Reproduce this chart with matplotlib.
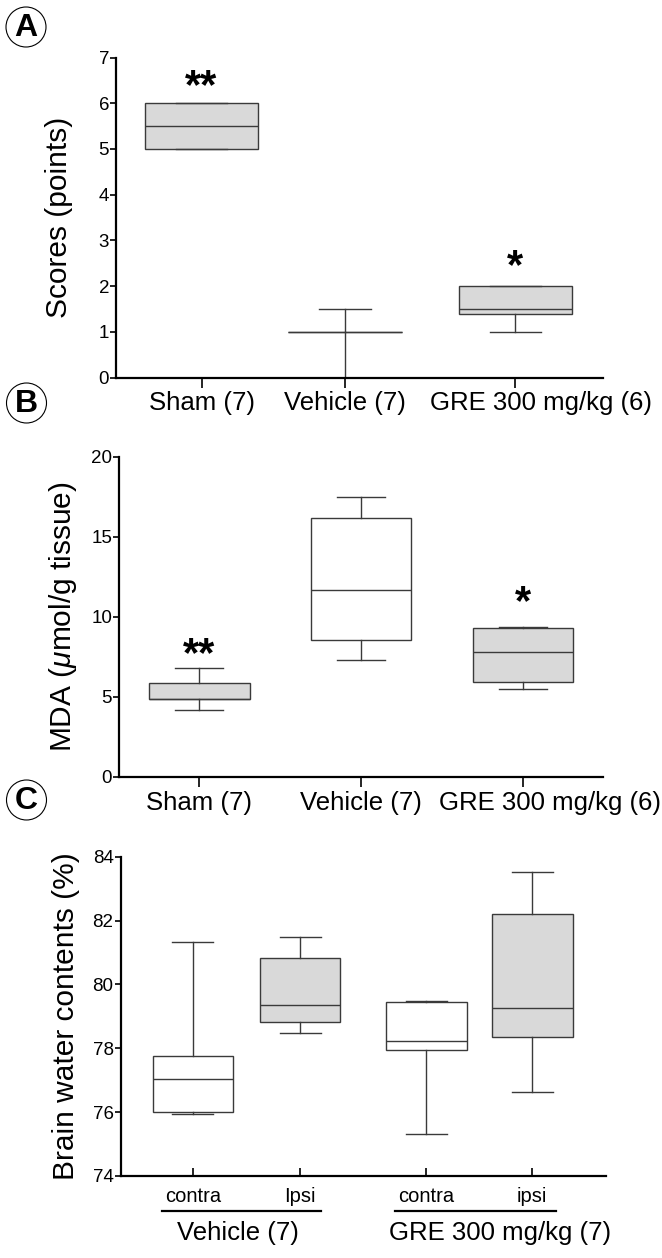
import matplotlib
matplotlib.use('Agg')
import matplotlib.pyplot as plt
import matplotlib.transforms as mtransforms
from matplotlib.patches import Ellipse
from matplotlib.lines import Line2D

plt.rcParams['font.family'] = ['Liberation Sans', 'DejaVu Sans']
plt.rcParams['mathtext.fontset'] = 'custom'
plt.rcParams['mathtext.it'] = 'Liberation Sans:italic'
plt.rcParams['mathtext.rm'] = 'Liberation Sans'

# ---------------- Data ----------------
# Panel A: neurological scores
a_labels = ['Sham (7)', 'Vehicle (7)', 'GRE 300 mg/kg (6)']
a_whislo = [5.0, 0.0, 1.0]
a_q1 = [5.0, 1.0, 1.38]
a_med = [5.5, 1.0, 1.5]
a_q3 = [6.0, 1.0, 2.0]
a_whishi = [6.0, 1.5, 2.0]
a_stars = ['**', '', '*']
a_star_y = [6.57, 0, 2.63]

# Panel B: MDA
b_labels = ['Sham (7)', 'Vehicle (7)', 'GRE 300 mg/kg (6)']
b_whislo = [4.17, 7.29, 5.5]
b_q1 = [4.85, 8.54, 5.94]
b_med = [4.87, 11.7, 7.79]
b_q3 = [5.875, 16.15, 9.29]
b_whishi = [6.77, 17.5, 9.35]
b_stars = ['**', '', '*']
b_star_y = [8.23, 0, 11.46]

# Panel C: brain water contents
c_labels = ['contra', 'Ipsi', 'contra', 'ipsi']
c_groups = ['Vehicle (7)', 'GRE 300 mg/kg (7)']
c_whislo = [75.95, 78.47, 75.33, 76.63]
c_q1 = [76.01, 78.82, 77.96, 78.34]
c_med = [77.04, 79.37, 78.22, 79.26]
c_q3 = [77.77, 80.83, 79.46, 82.22]
c_whishi = [81.33, 81.49, 79.48, 83.53]

# ---------------- Style / layout ----------------
GRAY = '#d9d9d9'
EDGE = '#3a3a3a'
W, H = 662, 1258

fig = plt.figure(figsize=(W / 100, H / 100), dpi=100)

def px_axes(left, right, top, bottom):
    return fig.add_axes([left / W, 1 - bottom / H, (right - left) / W, (bottom - top) / H])

axA = px_axes(116, 603, 57.5, 377.5)
axB = px_axes(119, 603, 456.7, 776.7)
axC = px_axes(120.5, 606, 856.7, 1176)


def style_axes(ax):
    for s in ['top', 'right']:
        ax.spines[s].set_visible(False)
    for s in ['left', 'bottom']:
        ax.spines[s].set_linewidth(1.6)
        ax.spines[s].set_color('black')
    ax.set_xlim(0, 1)
    ax.tick_params(axis='y', length=4, width=1.2, pad=1, labelsize=13.5)


def draw_boxes(ax, labels, whislo, q1, med, q3, whishi, positions, width, capw, fills):
    stats = [dict(label=l, whislo=a, q1=b, med=c, q3=d, whishi=e)
             for l, a, b, c, d, e in zip(labels, whislo, q1, med, q3, whishi)]
    lp = dict(color=EDGE, linewidth=1.0)
    bp = ax.bxp(stats, positions=positions, widths=width, capwidths=capw,
                patch_artist=True, showfliers=False, manage_ticks=False,
                boxprops=dict(edgecolor=EDGE, linewidth=1.0),
                medianprops=lp, whiskerprops=lp, capprops=lp)
    for patch, fc in zip(bp['boxes'], fills):
        patch.set_facecolor(fc)
    ax.set_xticks(positions)
    ax.set_xticklabels(labels)


def stars(ax, positions, texts, ys):
    for p, t, y in zip(positions, texts, ys):
        if t:
            ax.annotate(t, xy=(p, y), xytext=(0, -15), textcoords='offset points',
                        ha='center', va='baseline', fontsize=30, fontweight='bold')


def shift_label(ax, idx, dx_px):
    lbl = ax.get_xticklabels()[idx]
    lbl.set_transform(lbl.get_transform() +
                      mtransforms.ScaledTranslation(dx_px / 100, 0, fig.dpi_scale_trans))

# Panel A
posA = [0.1756, 0.470, 0.820]
style_axes(axA)
draw_boxes(axA, a_labels, a_whislo, a_q1, a_med, a_q3, a_whishi, posA, 0.233, 0.106,
           [GRAY, 'white', GRAY])
axA.set_ylim(0, 7)
axA.set_yticks(range(0, 8))
axA.tick_params(axis='x', length=7, width=1.2, pad=3, labelsize=18.5)
axA.set_ylabel('Scores (points)', fontsize=21.5, va='center')
axA.yaxis.set_label_coords(-0.118, 0.5)
stars(axA, posA, a_stars, a_star_y)
shift_label(axA, 2, 26)

# Panel B
posB = [0.166, 0.500, 0.835]
style_axes(axB)
draw_boxes(axB, b_labels, b_whislo, b_q1, b_med, b_q3, b_whishi, posB, 0.208, 0.099,
           [GRAY, 'white', GRAY])
axB.set_ylim(0, 20)
axB.set_yticks([0, 5, 10, 15, 20])
axB.tick_params(axis='x', length=7, width=1.2, pad=3, labelsize=18.5)
axB.set_ylabel(r'MDA ($\mu$mol/g tissue)', fontsize=21.5, va='center')
axB.yaxis.set_label_coords(-0.116, 0.5)
stars(axB, posB, b_stars, b_star_y)
shift_label(axB, 2, 27)

# Panel C
posC = [0.149, 0.370, 0.630, 0.848]
style_axes(axC)
draw_boxes(axC, c_labels, c_whislo, c_q1, c_med, c_q3, c_whishi, posC, 0.166, 0.085,
           ['white', GRAY, 'white', GRAY])
axC.set_ylim(74, 84)
axC.set_yticks(range(74, 85, 2))
axC.tick_params(axis='x', direction='in', length=6, width=1.2, pad=8, labelsize=14.5)
axC.set_ylabel('Brain water contents (%)', fontsize=21.5, va='center')
axC.yaxis.set_label_coords(-0.113, 0.5)

line_y = -0.109
for (x0, x1) in [(0.0855, 0.4128), (0.5654, 0.897)]:
    axC.add_line(Line2D([x0, x1], [line_y, line_y], transform=axC.transAxes,
                        color='black', lw=1.6, clip_on=False))
for x, txt in zip([0.242, 0.782], c_groups):
    axC.text(x, -0.179, txt, transform=axC.transAxes, ha='center', va='center',
             fontsize=18.5)

# Panel letters
for letter, (cx, cy) in zip(['A', 'B', 'C'], [(26, 27), (26.5, 403), (26.5, 800)]):
    fig.add_artist(Ellipse((cx / W, 1 - cy / H), 40 / W, 40 / H, transform=fig.transFigure,
                           fill=False, ec='black', lw=0.8))
    fig.text(cx / W, 1 - (cy + 1) / H, letter, ha='center', va='center',
             fontsize=23, fontweight='bold')

fig.savefig('out.png', dpi=100)
